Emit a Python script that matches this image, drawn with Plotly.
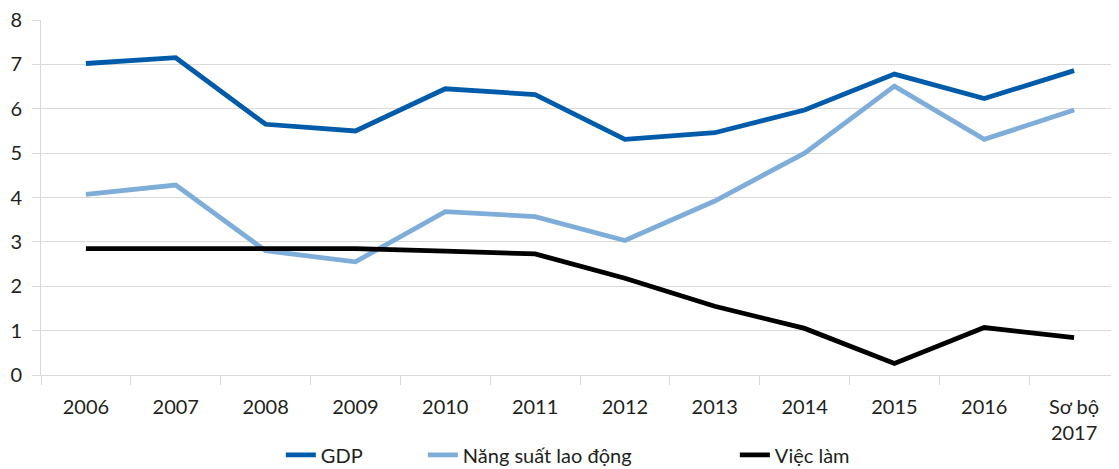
import plotly.graph_objects as go

categories = ["2006", "2007", "2008", "2009", "2010", "2011", "2012", "2013",
              "2014", "2015", "2016", "Sơ bộ<br>2017"]
gdp = [7.02, 7.15, 5.65, 5.50, 6.45, 6.32, 5.31, 5.46, 5.97, 6.78, 6.23, 6.86]
nang_suat = [4.07, 4.28, 2.80, 2.55, 3.68, 3.57, 3.03, 3.92, 5.00, 6.51, 5.31, 5.97]
viec_lam = [2.85, 2.85, 2.85, 2.85, 2.79, 2.73, 2.18, 1.55, 1.05, 0.26, 1.07, 0.84]

FONT = "Lato, Open Sans, sans-serif"

fig = go.Figure()
fig.add_trace(go.Scatter(x=categories, y=gdp, name="GDP", mode="lines", legendwidth=97,
                         line=dict(color="#005BAA", width=4.8)))
fig.add_trace(go.Scatter(x=categories, y=nang_suat, name="Năng suất lao động", mode="lines",
                         legendwidth=267, line=dict(color="#7FADD9", width=4.8)))
fig.add_trace(go.Scatter(x=categories, y=viec_lam, name="Việc làm", mode="lines",
                         legendwidth=90, line=dict(color="#000000", width=4.8)))

fig.update_layout(
    width=1111, height=461,
    margin=dict(l=33, r=0, t=12, b=94, autoexpand=False),
    plot_bgcolor="white", paper_bgcolor="white",
    font=dict(family=FONT, size=20, color="#231f20"),
    legend=dict(orientation="h", x=0.2225, xanchor="left", y=-0.225, yanchor="middle",
                font=dict(size=20), tracegroupgap=0),
    xaxis=dict(type="category", showgrid=False, showline=True, linecolor="#d9d9d9",
               ticks="outside", tickson="boundaries", ticklen=9, tickcolor="#d9d9d9",
               range=[-0.5, 11.5], tickfont=dict(size=20), ticklabelstandoff=14,
               ticklabeloverflow="allow"),
    yaxis=dict(range=[0, 8], dtick=1, showgrid=True, gridcolor="#d9d9d9", gridwidth=1,
               showline=True, linecolor="#d9d9d9", ticks="outside", ticklen=8,
               tickcolor="#d9d9d9", zeroline=False, tickfont=dict(size=20),
               ticklabelstandoff=6, ticklabeloverflow="allow"),
)

fig.write_html("out.html")
